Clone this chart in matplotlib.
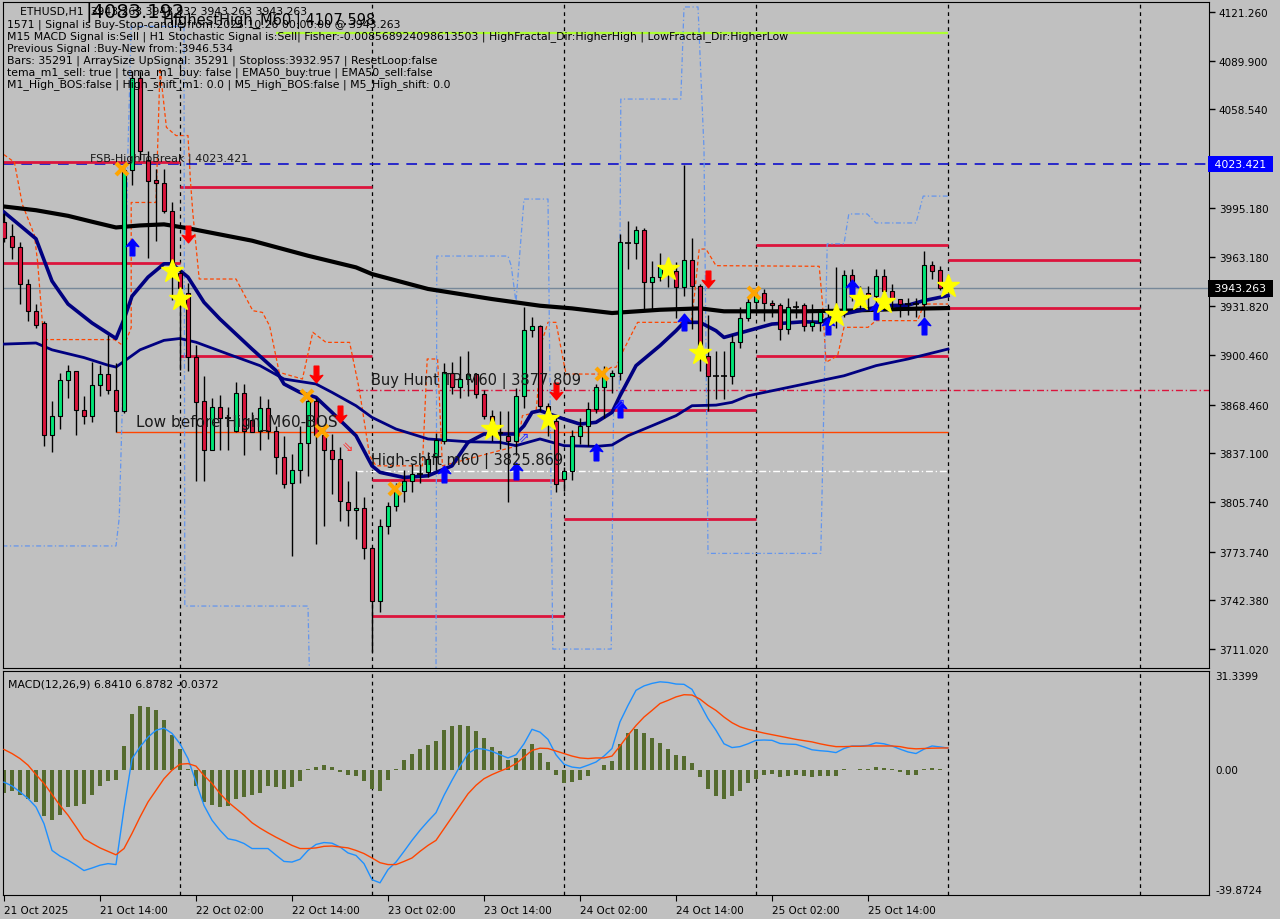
import matplotlib
matplotlib.use('Agg')
import matplotlib.pyplot as plt
from matplotlib.path import Path

# ---- candles: ETHUSD H1, 21 Oct 02:00 .. 26 Oct 00:00 ----
opens = [3986, 3977, 3970, 3946, 3929, 3921, 3849, 3861, 3884, 3890,
         3865, 3861, 3881, 3888, 3878, 3864, 4019.5, 4079, 4026, 4013,
         4011, 3993, 3953, 3940, 3899, 3871, 3839, 3867, 3859.5, 3851.6,
         3876, 3858.7, 3851.6, 3866, 3851.6, 3835, 3818, 3826.5, 3844, 3871,
         3848.8, 3839.4, 3833.4, 3806, 3800.7, 3802, 3776, 3742, 3790, 3803,
         3813, 3819.5, 3823.7, 3824.8, 3834.4, 3845, 3889, 3879.5, 3884.9, 3888,
         3875.2, 3861.3, 3851, 3848.4, 3845.2, 3874.1, 3916.5, 3919.2, 3867.7, 3858,
         3820.4, 3825.8, 3848.4, 3854.8, 3865.6, 3879.5, 3887, 3889, 3972.5, 3972.3,
         3980.9, 3947.1, 3950.4, 3955, 3954.2, 3943.9, 3961.5, 3945, 3899.9, 3887,
         3887, 3886.6, 3908.9, 3924, 3934.7, 3940.3, 3933.8, 3932.5, 3917.1, 3931.6,
         3932.5, 3919, 3921.4, 3927.8, 3929, 3928, 3951.9, 3939.6, 3940.3, 3938.1,
         3951.4, 3941.4, 3936.4, 3933.2, 3933.2, 3933.2, 3958.3, 3955.3, 3943.263]
highs = [3992, 3985, 3973, 3949, 3933, 3922, 3871, 3889, 3894, 3890,
         3874, 3896, 3894, 3913, 3895, 4023, 4083.2, 4083, 4032, 4020,
         4020, 3998.6, 3957, 3947, 3907, 3887, 3873, 3874.6, 3867, 3882.7,
         3881.7, 3863.4, 3874, 3872, 3854.8, 3848, 3836.6, 3854.8, 3876, 3873,
         3853.8, 3849.5, 3840.9, 3819.4, 3825.9, 3808.7, 3777, 3795, 3806, 3818,
         3826, 3830, 3830, 3838, 3850, 3895, 3896, 3900, 3903, 3889,
         3878, 3865, 3864, 3864, 3879, 3931, 3925, 3920, 3869.5, 3861,
         3828, 3852, 3860, 3870, 3882, 3893, 3891, 3978, 3986.9, 3983.6,
         3982, 3961, 3966, 3962, 3960, 4023, 3976, 3946, 3926, 3903,
         3903, 3913, 3931, 3937, 3942, 3943, 3936, 3934, 3937, 3935,
         3934, 3933, 3930, 3933, 3957, 3955, 3956, 3945, 3945, 3956,
         3956, 3946, 3936.5, 3937, 3937, 3967.6, 3961, 3958, 3943.932]
lows = [3973, 3962, 3933, 3922, 3918, 3841.5, 3838, 3853, 3873, 3849,
        3856, 3857, 3874, 3875, 3851, 3863, 4010, 4026, 3963, 3974,
        3992, 3936, 3891, 3890, 3819, 3819, 3839, 3839, 3839, 3850.6,
        3836, 3850.6, 3839, 3846, 3823.7, 3815, 3770.7, 3818, 3822.6, 3778.6,
        3790.4, 3810.8, 3793.6, 3790.4, 3781.8, 3769, 3709, 3735, 3785, 3800,
        3806, 3812, 3818, 3822, 3826, 3843, 3875, 3873, 3874, 3873,
        3859, 3845, 3840, 3806, 3836, 3866, 3912, 3864, 3848, 3812,
        3813, 3820, 3843, 3842, 3863, 3860, 3876, 3884, 3955.7, 3962,
        3930, 3929, 3948, 3944, 3924, 3938.5, 3917, 3890, 3864, 3872,
        3872, 3882, 3905, 3922, 3930, 3922, 3925, 3910, 3914, 3924,
        3916, 3916, 3916, 3922, 3918, 3925, 3935, 3930, 3930, 3932,
        3937, 3930, 3925, 3926, 3925, 3925, 3949, 3942, 3943.263]
closes = [3976, 3970, 3946, 3929, 3920, 3849, 3861, 3884, 3890, 3865,
          3861, 3881, 3888, 3878, 3864, 4019.5, 4079, 4032, 4012.6, 4011,
          3993, 3953, 3943.6, 3898.8, 3870, 3839, 3866.6, 3860, 3859, 3876,
          3851.6, 3851, 3866, 3851.6, 3835, 3817.3, 3826.5, 3844, 3871, 3848.8,
          3839.4, 3833.4, 3806.5, 3800.5, 3802, 3775.8, 3742, 3790, 3803, 3813,
          3819.5, 3823.7, 3824, 3833.4, 3845.6, 3889.2, 3879.5, 3884.9, 3888, 3875.2,
          3861.3, 3850.5, 3850, 3845.2, 3874.1, 3916.5, 3919.2, 3867.7, 3861.3, 3817.3,
          3825.8, 3848.4, 3854.8, 3865.6, 3879.5, 3885.9, 3888.8, 3972.9, 3972.3, 3980.9,
          3947.1, 3950.4, 3956.8, 3957, 3943.9, 3961.5, 3945, 3899.9, 3886.6, 3887,
          3887.2, 3908.9, 3924, 3934.7, 3938.6, 3933.8, 3932.5, 3917.1, 3931, 3931.7,
          3918.8, 3921.4, 3927.8, 3929, 3928, 3951.9, 3939.6, 3937, 3938.1, 3951,
          3941.8, 3936.4, 3933.2, 3933, 3933.4, 3958.3, 3954.7, 3943.263, 3943.263]

# moving averages (bar index, price)
ma_black_idx = [0, 4, 8, 11, 14, 17, 20, 23, 31, 38, 44, 46, 53, 61, 67, 71, 76, 82, 87, 90, 100, 106, 112, 118]
ma_black = [3996, 3993.6, 3990, 3986.2, 3982.5, 3983.8, 3984.5, 3982, 3974, 3964.3, 3956.8, 3952.5,
            3942.9, 3936.4, 3932.1, 3930.4, 3927.4, 3929.5, 3930.4, 3928.5, 3928.5, 3929, 3930, 3930.6]
ma_fast_idx = [0, 4, 6, 8, 11, 14, 15, 16, 18, 20, 21, 23, 25, 27, 31, 34, 35, 37, 39, 41,
               44, 46, 47, 50, 53, 56, 58, 60, 64, 65, 66, 67, 70, 72, 74, 76, 77, 79, 82, 84,
               85, 87, 89, 90, 93, 96, 100, 102, 104, 107, 110, 113, 115, 117, 118]
ma_fast = [3992.4, 3975.2, 3948, 3933.2, 3921, 3911, 3923.4, 3938.2, 3950.5, 3959.1,
           3959.1, 3950.5, 3934.3, 3923.5, 3904.2, 3890.3, 3881.7, 3876.3, 3873.1, 3863.4,
           3848.4, 3829, 3824.8, 3821.5, 3822.6, 3829, 3844.1, 3849.5, 3849.5, 3854.8,
           3863.4, 3864.5, 3859.1, 3855.9, 3857, 3863.4, 3874.1, 3893.5, 3906.4, 3916,
           3921.4, 3921.4, 3916, 3911.7, 3916, 3920.3, 3921.8, 3921.4, 3925.7, 3929,
           3932.1, 3932.5, 3935.4, 3937.5, 3938.6]
ma_slow_idx = [0, 4, 6, 10, 13, 14, 15, 17, 20, 22, 24, 28, 32, 35, 39, 41, 44, 46, 49, 53,
               58, 62, 64, 67, 70, 74, 76, 78, 81, 84, 86, 89, 91, 93, 97, 101, 105, 109, 113, 118]
ma_slow = [3907.4, 3908.1, 3903.7, 3898.7, 3893.8, 3892.6, 3896.3, 3903.7, 3909.8, 3911,
           3908.6, 3901, 3893.5, 3884.9, 3881.7, 3876.3, 3867.7, 3860.2, 3852.7, 3846.3,
           3844.5, 3844.1, 3842, 3846.3, 3842, 3841.5, 3842.4, 3848.4, 3854.8, 3861.3,
           3867.7, 3868.1, 3869.9, 3874.1, 3878.4, 3882.7, 3887, 3893.5, 3897.8, 3904.2]

# channel step lines
orange_idx = [0, 1.3, 2.3, 3.8, 4.2, 4.8, 5, 13.8, 15, 15.9, 15.9, 19, 19.5, 20.3, 21.5, 23, 23.3, 23.6,
              24.4, 29, 31.1, 32.3, 33.2, 34.4, 37.3, 38.6, 40.25, 43.2, 44.4, 45.7, 46.5, 52.3, 52.9,
              54.2, 54.8, 64.2, 64.8, 66.5, 67.3, 68, 69, 70.25, 74.6, 75.9, 76.5, 77.5, 79.2, 85.9,
              86.3, 86.9, 87.75, 89, 101.9, 102.3, 102.75, 104.2, 105, 108, 109, 114.2, 115, 118]
orange_val = [4029.4, 4024.5, 3997.3, 3977.6, 3960.4, 3921, 3910.3, 3910.3, 3906, 3918, 3998.6, 3998.6,
              4085, 4047, 4041.7, 4041.7, 4013, 3992, 3949.3, 3949.3, 3928.9, 3927.8, 3919.2, 3889.2,
              3884.9, 3915, 3908.5, 3908.5, 3878.5, 3835.5, 3829, 3829, 3897.8, 3897.8, 3829, 3841.9,
              3861.3, 3863.4, 3910, 3921.4, 3921.4, 3888.1, 3888.1, 3892.4, 3892.4, 3904.2, 3921.4,
              3921.4, 3938.5, 3968.6, 3968.6, 3957.9, 3957.5, 3934.3, 3895.7, 3899.9, 3918.2, 3918.2,
              3922.5, 3922.5, 3933.2, 3933.2]
blue_idx = [-0.2, 14, 14.4, 14.75, 15.1, 15.5, 15.9, 22.5, 22.6, 38, 38.2, 54, 54.1, 63, 63.4, 64,
            65, 68, 68.6, 75.9, 76.2, 76.9, 77.1, 84.6, 85, 86.75, 87.5, 88, 102.1, 102.5, 102.9,
            105, 105.6, 107.9, 109, 114, 114.9, 118]
blue_val = [3777.4, 3777.4, 3795.3, 3859.5, 3923.9, 4033.3, 4112, 4112, 3738.7, 3738.7, 3690,
            3690, 3964.1, 3964.1, 3957.9, 3934.3, 4000.8, 4000.8, 3711, 3711, 3867.5, 3872, 4065.2,
            4065.2, 4124.5, 4124.5, 4033, 3772.6, 3772.6, 3872, 3972, 3972, 3991.2, 3991.2, 3985.4,
            3985.4, 4002.7, 4002.7]

# daily high/low projections: (start bar, end bar, price)
day_levels = [(-0.2, 22, 4024.9), (-0.2, 22, 3959.6), (22, 46, 4008.6), (22, 46, 3899.8),
              (46, 70, 3819.9), (46, 70, 3732.5), (70, 94, 3865), (70, 94, 3795),
              (94, 118, 3971), (94, 118, 3900), (118, 142, 3961.6), (118, 142, 3930.6)]
day_starts = [22, 46, 70, 94, 118, 142]

# signals
buy_idx = [16, 55, 64, 74, 77, 85, 103, 106, 109, 115]
buy_val = [3970.2, 3823.7, 3825.9, 3837.9, 3865.6, 3921.6, 3919, 3943.3, 3928.7, 3919]
sell_idx = [23, 39, 42, 69, 88]
sell_val = [3978.3, 3888.1, 3862.4, 3877.2, 3949.3]
star_idx = [21, 22, 61, 68, 83, 87, 104, 107, 110, 118]
star_val = [3954.7, 3936.4, 3852.7, 3859.2, 3955.7, 3901.7, 3926.3, 3936.4, 3934.5, 3945]
cross_idx = [14.8, 37.9, 39.8, 48.9, 74.8, 93.8]
cross_val = [4020.1, 3874.1, 3851.6, 3814.1, 3888.1, 3940.3]

# MACD(12,26,9)
macd_hist = [-7.4, -6.9, -8.2, -9.4, -10.3, -14.9, -16.1, -14.5, -11.9, -11.6,
             -10.8, -8.2, -5.3, -3.7, -3.4, 7.5, 17.8, 20.2, 19.9, 18.8,
             15.9, 10.9, 6.4, 0.3, -5.2, -10.3, -11.4, -12.0, -11.6, -9.4,
             -8.7, -8.2, -7.3, -5.3, -5.6, -6.3, -5.6, -3.5, 0.1, 0.7,
             1.3, 0.9, -0.7, -1.8, -2.0, -3.5, -6.3, -6.8, -3.4, 0.3,
             3.1, 5.1, 6.7, 7.9, 9.2, 12.7, 13.7, 14.3, 14.0, 12.4,
             9.9, 7.3, 5.8, 3.1, 3.8, 6.7, 8.2, 5.4, 2.5, -1.8,
             -4.2, -4.0, -3.4, -2.1, -0.2, 1.6, 2.6, 8.2, 11.5, 13.0,
             11.5, 9.9, 8.6, 6.7, 4.7, 4.2, 2.2, -2.5, -6.3, -8.5,
             -9.4, -8.5, -6.9, -4.4, -2.9, -1.8, -1.5, -2.5, -1.9, -1.6,
             -2.1, -2.5, -2.1, -2.1, -1.9, 0.1, -0.1, 0.2, 0.2, 0.8,
             0.6, 0.1, -0.8, -1.6, -1.8, 0.1, 0.6, 0.1, -0.0372]
macd_main = [-4.0, -5.2, -7.1, -9.2, -11.9, -17.2, -25.7, -27.5, -28.8, -30.4,
             -32.1, -31.3, -30.4, -29.9, -30.2, -12.4, 3.4, 7.2, 10.3, 12.5,
             13.2, 11.5, 8.2, 3.5, -4.0, -11.4, -16.1, -19.3, -22.0, -22.5,
             -23.5, -25.1, -25.1, -25.1, -27.2, -29.2, -29.4, -28.5, -25.7, -23.8,
             -23.2, -23.4, -24.6, -26.5, -27.3, -29.9, -35.0, -36.0, -31.8, -29.4,
             -26.0, -22.5, -19.3, -16.4, -13.7, -8.2, -3.4, 1.1, 5.1, 6.7,
             6.5, 5.8, 4.7, 3.7, 4.7, 8.2, 12.8, 11.9, 9.6, 4.7,
             1.7, 0.8, 0.5, 1.4, 2.4, 4.3, 6.7, 15.2, 20.4, 25.2,
             26.6, 27.4, 27.9, 27.7, 27.2, 27.1, 25.5, 20.9, 16.2, 12.5,
             8.2, 7.0, 7.3, 8.2, 9.3, 9.4, 9.3, 8.3, 8.1, 8.0,
             7.2, 6.3, 6.0, 5.8, 5.4, 6.7, 7.5, 7.5, 7.7, 8.5,
             8.2, 7.5, 6.5, 5.6, 5.1, 6.5, 7.5, 7.2, 6.841]
macd_signal = [6.4, 5.1, 3.5, 1.4, -1.6, -4.4, -7.9, -11.4, -14.5, -18.2,
               -22.0, -23.5, -24.9, -26.0, -27.1, -25.1, -20.3, -15.1, -10.3, -6.6,
               -2.9, -0.2, 1.7, 1.9, 1.1, -1.9, -4.4, -7.6, -10.3, -12.4,
               -14.5, -16.9, -18.6, -20.1, -21.5, -22.8, -24.1, -25.1, -25.1, -24.9,
               -24.4, -24.3, -24.6, -24.9, -25.7, -26.7, -28.1, -29.6, -30.2, -30.2,
               -29.2, -28.1, -26.0, -24.1, -22.5, -18.8, -15.1, -11.4, -7.7, -5.0,
               -2.9, -1.6, -0.5, 0.5, 1.9, 4.0, 6.1, 6.8, 6.7, 5.9,
               5.1, 4.3, 3.7, 3.5, 3.7, 3.7, 4.3, 7.5, 10.9, 14.0,
               16.7, 18.8, 21.0, 22.0, 23.1, 23.8, 23.7, 22.4, 20.4, 18.8,
               16.7, 14.9, 13.6, 12.8, 12.2, 11.6, 11.1, 10.6, 10.1, 9.6,
               9.2, 8.8, 8.2, 7.7, 7.3, 7.3, 7.4, 7.4, 7.5, 7.5,
               7.5, 7.5, 7.3, 6.8, 6.6, 6.7, 6.8, 6.85, 6.8782]

price_ticks = [4121.26, 4089.9, 4058.54, 4026.54, 3995.18, 3963.18, 3931.82,
               3900.46, 3868.46, 3837.1, 3805.74, 3773.74, 3742.38, 3711.02]
time_idx = [0, 12, 24, 36, 48, 60, 72, 84, 96, 108]
time_labels = ['21 Oct 2025', '21 Oct 14:00', '22 Oct 02:00', '22 Oct 14:00', '23 Oct 02:00',
               '23 Oct 14:00', '24 Oct 02:00', '24 Oct 14:00', '25 Oct 02:00', '25 Oct 14:00']

header = ['1571 | Signal is Buy-Stop-candle from:2025.10.26 00:00:00 @ 3943.263',
          'M15 MACD Signal is:Sell | H1 Stochastic Signal is:Sell| Fisher:-0.008568924098613503 | '
          'HighFractal_Dir:HigherHigh | LowFractal_Dir:HigherLow',
          'Previous Signal :Buy-New from: 3946.534',
          'Bars: 35291 | ArraySize UpSignal: 35291 | Stoploss:3932.957 | ResetLoop:false',
          'tema_m1_sell: true | tema_m1_buy: false | EMA50_buy:true | EMA50_sell:false',
          'M1_High_BOS:false | High_shift_m1: 0.0 | M5_High_BOS:false | M5_High_shift: 0.0']

BG = '#c0c0c0'
BULL = '#00e676'
BEAR = '#dc143c'

up_arrow = Path([(0, 1), (-0.75, 0.1), (-0.28, 0.25), (-0.28, -1), (0.28, -1), (0.28, 0.25),
                 (0.75, 0.1), (0, 1)],
                [Path.MOVETO] + [Path.LINETO] * 6 + [Path.CLOSEPOLY])
down_arrow = Path([(x, -y) for x, y in up_arrow.vertices], up_arrow.codes)

fig = plt.figure(figsize=(12.8, 9.2), dpi=100, facecolor=BG)
ax = fig.add_axes([3 / 1280, 1 - 669 / 920, 1206 / 1280, 666 / 920], facecolor=BG)
ax2 = fig.add_axes([3 / 1280, 1 - 896 / 920, 1206 / 1280, 224 / 920], facecolor=BG)
XMIN, XMAX = -0.125, 150.625

# ---- main chart ----
for d in day_starts:
    ax.axvline(d, color='black', ls=(0, (3, 3)), lw=0.9, zorder=1)
    ax2.axvline(d, color='black', ls=(0, (3, 3)), lw=0.9, zorder=1)

ax.axhline(4023.421, color='#0000cd', ls=(0, (7, 5)), lw=1.1, zorder=1)
ax.axhline(3943.263, color='#778899', lw=1, zorder=1)
ax.hlines(4107.598, 34, 118, color='#adff2f', lw=1.6, zorder=1)
ax.hlines(3877.809, 44, XMAX, color='#dc143c', ls=(0, (5, 2, 1, 2)), lw=1, zorder=1)
ax.hlines(3850.7, 14, 118, color='#ff4500', lw=1, zorder=1)
ax.hlines(3825.869, 44, 118, color='white', ls=(0, (5, 2, 1, 2)), lw=1, zorder=1)
for s, e, p in day_levels:
    ax.hlines(p, s, e, color='#dc143c', lw=2, zorder=2)

ax.plot(orange_idx, orange_val, color='#ff4500', lw=0.9, ls=(0, (3, 2)), zorder=2)
ax.plot(blue_idx, blue_val, color='#6495ed', lw=0.9, ls=(0, (4, 2, 1, 2)), zorder=2)
ax.plot(ma_black_idx, ma_black, color='black', lw=3, zorder=3)
ax.plot(ma_slow_idx, ma_slow, color='#000080', lw=2, zorder=3)
ax.plot(ma_fast_idx, ma_fast, color='#000080', lw=2.6, zorder=3)

for i, (o, h, l, c) in enumerate(zip(opens, highs, lows, closes)):
    ax.vlines(i, l, h, color='black', lw=1, zorder=4)
    if abs(c - o) < 0.6:
        ax.hlines(o, i - 0.32, i + 0.32, color='black', lw=1.2, zorder=5)
    else:
        ax.bar(i, abs(c - o), bottom=min(o, c), width=0.62, color=BULL if c > o else BEAR,
               edgecolor='black', lw=0.8, zorder=5)

ax.plot(buy_idx, buy_val, ls='none', marker=up_arrow, ms=12, color='#0000ff', zorder=6)
ax.plot(sell_idx, sell_val, ls='none', marker=down_arrow, ms=12, color='#ff0000', zorder=6)
ax.plot(star_idx, star_val, ls='none', marker='*', ms=17, color='#ffff00', zorder=6)
ax.plot(cross_idx, cross_val, ls='none', marker='x', ms=9, mew=3, color='#ffa500', zorder=6)
ax.text(43, 3842, '\u21d8', color='#ff3030', fontsize=10, ha='center', va='center', zorder=6)
ax.text(65, 3848, '\u21d7', color='#3030ff', fontsize=10, ha='center', va='center', zorder=6)
ax.text(77, 3870, '\u21d7', color='#3030ff', fontsize=10, ha='center', va='center', zorder=6)

lab = dict(color='#1a1a1a', zorder=7)
ax.text(10.8, 4024, 'FSB-HighToBreak | 4023.421', fontsize=8, va='bottom', **lab)
ax.text(16.5, 3857.5, 'Low before High_M60-BOS', fontsize=11, va='center', **lab)
ax.text(45.9, 3884, 'Buy Hunt TP M60 | 3877.809', fontsize=10.5, va='center', **lab)
ax.text(45.9, 3833, 'High-shift m60 | 3825.869', fontsize=10.5, va='center', **lab)

ax.set_xlim(XMIN, XMAX)
ax.set_ylim(3698.8, 4127.7)
ax.set_xticks([])
ax.yaxis.tick_right()
ax.set_yticks(price_ticks)
ax.set_yticklabels(['%.3f' % v for v in price_ticks])
ax.tick_params(axis='y', direction='out', length=4, width=1, labelsize=7.5, pad=3, colors='black')
for sp in ax.spines.values():
    sp.set_color('black')

yt = ax.get_yaxis_transform()
ax.text(1.0018, 4023.421, ' 4023.421 ', transform=yt, fontsize=7.8, color='white', va='center',
        ha='left', bbox=dict(boxstyle='square,pad=0.3', fc='#0000ff', ec='none'), clip_on=False, zorder=8)
ax.text(1.0018, 3943.263, ' 3943.263 ', transform=yt, fontsize=7.8, color='white', va='center',
        ha='left', bbox=dict(boxstyle='square,pad=0.3', fc='black', ec='none'), clip_on=False, zorder=8)

# ---- MACD panel ----
idx = list(range(len(macd_hist)))
ax2.bar(idx, macd_hist, width=0.5, color='#556b2f', zorder=2)
ax2.plot(idx, macd_main, color='#1e90ff', lw=1, zorder=3)
ax2.plot(idx, macd_signal, color='#ff4500', lw=1, zorder=3)
ax2.set_xlim(XMIN, XMAX)
ax2.set_ylim(-39.8724, 31.3399)
ax2.set_yticks([])
ax2.set_xticks(time_idx)
ax2.set_xticklabels(time_labels, ha='left')
ax2.tick_params(axis='x', direction='out', length=4, labelsize=7.5, pad=3)
for sp in ax2.spines.values():
    sp.set_color('black')
yt2 = ax2.get_yaxis_transform()
ax2.text(1.005, 31.3399, '31.3399', transform=yt2, fontsize=7.5, va='top', ha='left')
ax2.text(1.005, 0, '0.00', transform=yt2, fontsize=7.5, va='center', ha='left')
ax2.text(1.005, -39.8724, '-39.8724', transform=yt2, fontsize=7.5, va='bottom', ha='left')
ax2.text(0.004, 0.965, 'MACD(12,26,9) 6.8410 6.8782 -0.0372', transform=ax2.transAxes,
         fontsize=7.8, va='top', ha='left')

# ---- header text ----
fig.text(20 / 1280, 1 - 12 / 920, 'ETHUSD,H1  3943.263 3943.932 3943.263 3943.263', fontsize=7.8, va='center')
fig.text(85 / 1280, 1 - 12 / 920, '|4083.192', fontsize=14, va='center')
fig.text(163 / 1280, 1 - 21 / 920, 'HighestHigh_M60 | 4107.598', fontsize=10.5, va='center')
for k, line in enumerate(header):
    fig.text(7 / 1280, 1 - (25 + 12 * k) / 920, line, fontsize=7.8, va='center')

fig.savefig('out.png', dpi=100, facecolor=BG)
